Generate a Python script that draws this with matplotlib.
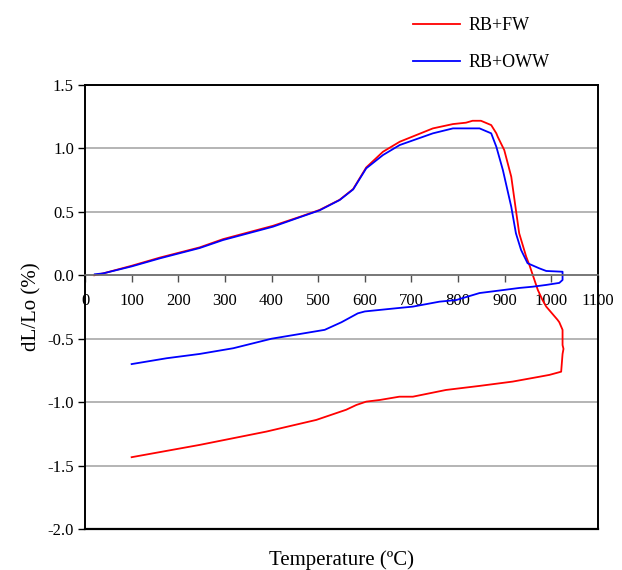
import matplotlib
matplotlib.use("Agg")
import matplotlib.pyplot as plt

plt.rcParams['font.family'] = ['Liberation Serif', 'DejaVu Serif']

# RB+FW: heating then cooling (temperature in C, dL/Lo in %)
fw_temp = [20, 39, 100, 161, 246, 296, 403, 460, 503, 546, 575, 603, 639, 675,
           746, 789, 817, 831, 849, 871, 882, 885, 899, 914, 923, 931, 946, 953,
           971, 981, 989, 1013, 1017, 1024, 1024, 1026, 1024, 1021, 996, 974, 917,
           846, 774, 703, 674, 632, 603, 582, 560, 496, 389, 246, 100]
fw_dl = [0.0, 0.015, 0.075, 0.14, 0.22, 0.285, 0.39, 0.46, 0.515, 0.595, 0.68,
         0.85, 0.974, 1.053, 1.158, 1.192, 1.203, 1.218, 1.218, 1.184, 1.119,
         1.092, 0.987, 0.777, 0.54, 0.331, 0.147, 0.08, -0.116, -0.195, -0.247,
         -0.35, -0.37, -0.43, -0.55, -0.58, -0.62, -0.76, -0.785, -0.80, -0.838,
         -0.872, -0.904, -0.957, -0.957, -0.983, -0.996, -1.022, -1.06, -1.14,
         -1.232, -1.337, -1.434]

# RB+OWW: heating then cooling
oww_temp = [21, 39, 100, 161, 246, 296, 403, 460, 503, 546, 575, 603, 639, 675,
            746, 789, 846, 871, 882, 896, 914, 924, 935, 949, 974, 989, 1024,
            1024, 1017, 989, 960, 931, 889, 846, 796, 760, 703, 667, 632, 600,
            585, 565, 550, 514, 400, 318, 246, 175, 100]
oww_dl = [0.008, 0.015, 0.07, 0.134, 0.215, 0.278, 0.383, 0.457, 0.512, 0.593,
          0.677, 0.843, 0.948, 1.027, 1.119, 1.158, 1.158, 1.119, 1.013, 0.83,
          0.54, 0.331, 0.2, 0.095, 0.055, 0.034, 0.028, -0.037, -0.06, -0.076,
          -0.09, -0.10, -0.12, -0.14, -0.195, -0.208, -0.247, -0.26, -0.273,
          -0.285, -0.30, -0.34, -0.37, -0.43, -0.50, -0.575, -0.62, -0.654, -0.70]

fig = plt.figure(figsize=(6.22, 5.70), dpi=100)
ax = fig.add_axes([85 / 622, 41 / 570, 513 / 622, 444 / 570])

ax.plot(fw_temp, fw_dl, color='#ff0000', lw=1.3, label='RB+FW')
ax.plot(oww_temp, oww_dl, color='#0000ff', lw=1.3, label='RB+OWW')

ax.set_xlim(0, 1100)
ax.set_ylim(-2.0, 1.5)
ax.set_xticks(range(0, 1101, 100))
ax.set_yticks([-2.0, -1.5, -1.0, -0.5, 0.0, 0.5, 1.0, 1.5])
ax.set_yticklabels([f'{v:.1f}' for v in ax.get_yticks()])

# Excel style: x axis crosses at 0, box kept around the plot
ax.yaxis.grid(True, color='#a8a8a8', lw=1.2)
ax.set_axisbelow(True)
ax.spines['bottom'].set_position(('data', 0))
ax.spines['bottom'].set_color('#6e6e6e')
ax.spines['bottom'].set_linewidth(1.2)
for s in ['left', 'right', 'top']:
    ax.spines[s].set_linewidth(1.4)
ax.axhline(-2.0, color='black', lw=1.6, clip_on=False)

ax.tick_params(axis='x', direction='out', length=5, width=1, colors='#505050',
               labelcolor='black', labelsize=12, pad=8)
ax.tick_params(axis='y', direction='out', length=5, width=1, labelsize=12, pad=3)
ax.tick_params(top=False, right=False)

ax.set_xlabel('Temperature (ºC)', fontsize=15, labelpad=0)
ax.xaxis.set_label_coords(0.5, -0.047)
ax.set_ylabel('dL/Lo (%)', fontsize=15, labelpad=4)

fig.legend(loc='upper left', bbox_to_anchor=(413 / 622, 1 - 17 / 570),
           frameon=False, fontsize=13, handlelength=2.6, handletextpad=0.5,
           labelspacing=1.1, borderpad=0, borderaxespad=0)

fig.savefig('out.png', dpi=100)
